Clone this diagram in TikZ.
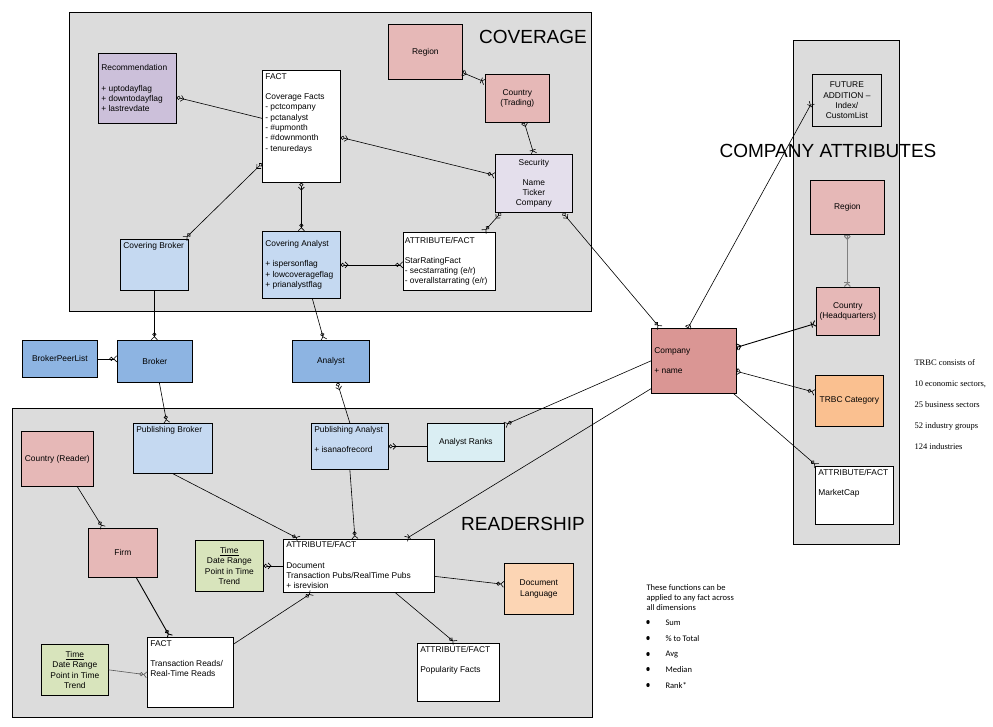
\documentclass[tikz,border=0pt]{standalone}
\usepackage{fontspec}
\setmainfont{Liberation Sans}
\newfontfamily\serfont{Liberation Serif}
\newfontfamily\calfont{Carlito}
\usetikzlibrary{arrows.meta}
\definecolor{panelc}{RGB}{220,220,220}
\definecolor{lavc}{RGB}{204,192,218}
\definecolor{lavlc}{RGB}{228,223,236}
\definecolor{pinkc}{RGB}{230,184,183}
\definecolor{lbluec}{RGB}{197,217,241}
\definecolor{mbluec}{RGB}{141,180,226}
\definecolor{rankc}{RGB}{218,238,243}
\definecolor{compc}{RGB}{218,150,148}
\definecolor{trbcc}{RGB}{250,192,144}
\definecolor{doclc}{RGB}{252,213,180}
\definecolor{greenc}{RGB}{216,228,188}
\newcommand{\efont}{\fontsize{8.4}{10.3}\selectfont}
\newcommand{\tpbox}[3]{\parbox[c][#2pt][t]{#1pt}{\raggedright #3}}
\newcommand{\cpbox}[3]{\parbox[c][#2pt][c]{#1pt}{\raggedright #3}}
\tikzset{
  ent/.style={draw, line width=0.7pt, anchor=north west, inner sep=3pt, font=\efont},
  entc/.style={draw, line width=0.7pt, anchor=north west, inner sep=1pt, align=center, font=\efont},
  panel/.style={draw, line width=0.7pt, fill=panelc},
  conn/.style={line width=0.6pt},
  biglabel/.style={font=\fontsize{19}{22}\selectfont},
  zmE/.tip={Circle[open,length=4pt,width=4pt] Straight Barb[reversed,length=3pt,width=6pt]},
  zmS/.tip={Straight Barb[reversed,length=3pt,width=6pt] Circle[open,length=4pt,width=4pt]},
  bmE/.tip={Bar[width=6pt] Straight Barb[reversed,length=3pt,width=6pt]},
  bmS/.tip={Straight Barb[reversed,length=3pt,width=6pt] Bar[width=6pt]},
}
\begin{document}
\begin{tikzpicture}[x=1pt,y=-1pt]
\useasboundingbox (0,0) rectangle (993,727);
% panels
\draw[panel] (69,12) rectangle (591,311);
\draw[panel] (12,408) rectangle (592,717);
\draw[panel] (793,40) rectangle (899,544);

% coverage nodes
\node[ent, fill=lavc] (rec) at (98,53) {\cpbox{72}{64}{Recommendation\\[10pt]+ uptodayflag\\+ downtodayflag\\+ lastrevdate}};
\node[ent, fill=white] (covfact) at (262,70) {\tpbox{72}{106}{FACT\\[10pt]Coverage Facts\\- pctcompany\\- pctanalyst\\- \#upmonth\\- \#downmonth\\- tenuredays}};
\node[entc, fill=pinkc, minimum width=74pt, minimum height=55pt] (regC) at (388,24) {Region};
\node[entc, fill=pinkc, minimum width=64pt, minimum height=48pt] (ctryT) at (485,74) {Country\\(Trading)};
\node[entc, fill=lavlc, minimum width=77pt, minimum height=58pt] (sec) at (495,154) {Security\\[10pt]Name\\Ticker\\Company};
\node[ent, fill=white, inner xsep=1.5pt] (star) at (403,232) {\cpbox{89}{52}{ATTRIBUTE/FACT\\[10pt]StarRatingFact\\- secstarrating (e/r)\\- overallstarrating (e/r)}};
\node[ent, fill=lbluec] (covbro) at (120,239) {\tpbox{62}{45}{Covering Broker}};
\node[ent, fill=lbluec] (covan) at (262,231) {\cpbox{72}{61}{Covering Analyst\\[10pt]+ ispersonflag\\+ lowcoverageflag\\+ prianalystflag}};

% middle nodes
\node[entc, fill=mbluec, minimum width=75pt, minimum height=37pt] (bpl) at (22,340) {BrokerPeerList};
\node[entc, fill=mbluec, minimum width=75pt, minimum height=42pt] (broker) at (117,340) {Broker};
\node[entc, fill=mbluec, minimum width=77pt, minimum height=42pt] (analyst) at (292,340) {Analyst};
\node[ent, fill=compc] (company) at (651,328) {\cpbox{79}{59}{Company\\[10pt]+ name}};

% company attributes
\node[entc, fill=panelc, minimum width=69pt, minimum height=52pt] (future) at (812,74) {FUTURE\\ADDITION --\\Index/\\CustomList};
\node[entc, fill=pinkc, minimum width=74pt, minimum height=54pt] (regCA) at (810,180) {Region};
\node[entc, fill=pinkc, minimum width=63pt, minimum height=48pt] (ctryHQ) at (816,287) {Country\\(Headquarters)};
\node[entc, fill=trbcc, minimum width=68pt, minimum height=51pt] (trbc) at (815,375) {TRBC Category};
\node[ent, fill=white] (mcap) at (815,466) {\tpbox{72}{52}{ATTRIBUTE/FACT\\[10pt]MarketCap}};

% readership nodes
\node[entc, fill=pinkc, minimum width=72pt, minimum height=55pt] (ctryR) at (21,431) {Country (Reader)};
\node[ent, fill=lbluec] (pubbro) at (133,423) {\tpbox{73}{44}{Publishing Broker}};
\node[entc, fill=pinkc, minimum width=69pt, minimum height=49pt] (firm) at (88,528) {Firm};
\node[entc, fill=greenc, minimum width=68pt, minimum height=51pt] (time1) at (195,540) {\underline{Time}\\Date Range\\Point in Time\\Trend};
\node[ent, fill=white, inner ysep=2.5pt] (doc) at (283,539) {\tpbox{145}{48}{ATTRIBUTE/FACT\\[10pt]Document\\Transaction Pubs/RealTime Pubs\\+ isrevision}};
\node[ent, fill=lbluec] (pubAn) at (311,423) {\tpbox{71}{40}{Publishing Analyst\\[10pt]+ isanaofrecord}};
\node[entc, fill=rankc, minimum width=77pt, minimum height=38pt] (ranks) at (427,423) {Analyst Ranks};
\node[entc, fill=doclc, minimum width=69pt, minimum height=51pt] (doclang) at (504,563) {Document\\Language};
\node[ent, fill=white] (pop) at (417,643) {\tpbox{76}{52}{ATTRIBUTE/FACT\\[10pt]Popularity Facts}};
\node[ent, fill=white] (factTR) at (147,637) {\tpbox{80}{64}{FACT\\[10pt]Transaction Reads/\\Real-Time Reads}};
\node[entc, fill=greenc, minimum width=67pt, minimum height=51pt] (time2) at (41,644) {\underline{Time}\\Date Range\\Point in Time\\Trend};

% connectors
\draw[conn, zmS-] ([yshift=-9pt]rec.east) -- ([yshift=8pt]covfact.west);
\draw[conn, zmS-zmE] ([yshift=-11pt]covfact.east) -- ([yshift=8pt]sec.west);
\draw[conn, zmS-zmE] (covfact.south) -- (covan.north);
\draw[conn, zmS-zmE] ([yshift=-37pt]covfact.west) -- ([xshift=-4pt]covbro.north east);
\draw[conn, bmS-bmE] ([yshift=7pt]regC.south east) -- ([yshift=-8pt]ctryT.north west);
\draw[conn, bmS-bmE] ([xshift=7pt]ctryT.south) -- (sec.north);
\draw[conn, zmS-zmE] ([xshift=6pt]sec.south west) -- ([xshift=-12pt]star.north east);
\draw[conn, zmS-zmE] (covan.east) -- (covan.east -| star.west);
\draw[conn, zmS-zmE] ([xshift=-10pt]sec.south east) -- ([xshift=9pt]company.north west);
\draw[conn, bmS-bmE] ([xshift=37pt]company.north west) -- ([yshift=-2pt]future.west);
\draw[conn, line width=0.9pt, bmS-bmE] ([yshift=13.5pt]company.east) -- ([yshift=-12pt]ctryHQ.west);
\draw[conn, bmS-zmE] ([yshift=-10.5pt]company.east) -- ([yshift=8.5pt]trbc.west);
\draw[conn, -zmE] ([xshift=-3pt]company.south east) -- ([xshift=2pt]mcap.north west);
\draw[conn, gray, line width=1pt, bmS-bmE] (regCA.south) -- (regCA.south |- ctryHQ.north);
\draw[conn, -zmE] (covbro.south) -- (covbro.south |- broker.north);
\draw[conn, -zmE] (bpl.east) -- (bpl.east -| broker.west);
\draw[conn, -zmE] ([xshift=11pt]covan.south) -- ([xshift=-7pt]analyst.north);
\draw[conn, -zmE] ([xshift=4.5pt]broker.south) -- ([xshift=-6pt]pubbro.north);
\draw[conn, zmS-] ([xshift=6.5pt]analyst.south) -- (pubAn.north);
\draw[conn, zmS-] (pubAn.east) -- (pubAn.east -| ranks.west);
\draw[conn, -zmE] (company.west) -- ([yshift=-2pt]ranks.north east);
\draw[conn, -bmE] ([yshift=5pt]company.south west) -- ([xshift=-29pt]doc.north east);
\draw[conn, -zmE] (pubbro.south) -- ([xshift=16pt]doc.north west);
\draw[conn, -zmE] (pubAn.south) -- ([xshift=72pt]doc.north west);
\draw[conn, -zmE] ([xshift=20pt]ctryR.south) -- ([xshift=15pt]firm.north west);
\draw[conn, line width=0.9pt, -zmE] ([xshift=13.5pt]firm.south) -- ([xshift=23pt]factTR.north west);
\draw[conn, zmS-] (time1.east) -- (time1.east -| doc.west);
\draw[conn, -zmE] ([yshift=-10.5pt]doc.east) -- ([yshift=4.5pt]doclang.west);
\draw[conn, -zmE] ([xshift=36.5pt]doc.south) -- ([xshift=-3pt]pop.north);
\draw[conn, -zmE] ([yshift=-7pt]factTR.north east) -- ([xshift=29pt]doc.south west);
\draw[conn, gray!70!black, -zmE] (time2.east) -- ([yshift=-2.5pt]factTR.west);

% panel titles
\node[biglabel] (tcov) at (533,37) {COVERAGE};
\node[biglabel] (tca) at (828,151) {COMPANY ATTRIBUTES};
\node[biglabel] (tread) at (523,524) {READERSHIP};

% side notes
\node[anchor=west, align=left, font=\serfont\fontsize{8.5}{21}\selectfont] (trbcnote) at (911,405) {TRBC consists of\\10 economic sectors,\\25 business sectors\\52 industry groups\\124 industries};
\node[anchor=west, align=left, font=\calfont\fontsize{8.5}{10}\selectfont] (fnote) at (643,598) {These functions can be\\applied to any fact across\\all dimensions};
\node[anchor=west, align=left, font=\calfont\fontsize{8.5}{15.7}\selectfont] (flist) at (662,654) {Sum\\\% to Total\\Avg\\Median\\Rank*};
\foreach \yy in {622,638,654,669,685} \fill (648,\yy) ellipse (1.7pt and 2pt);
\end{tikzpicture}
\end{document}
